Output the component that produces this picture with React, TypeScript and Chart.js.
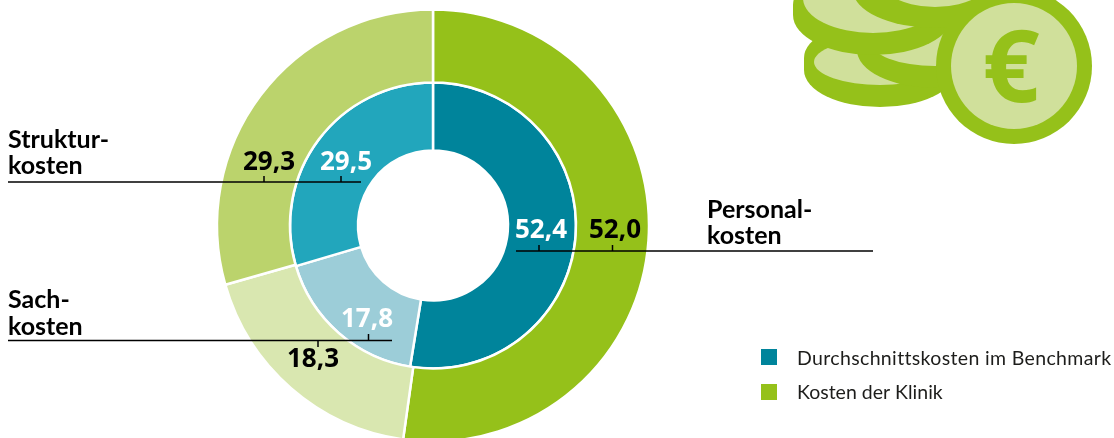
import React, { useEffect, useRef } from "react";
import { Chart, registerables, Plugin } from "chart.js";

Chart.register(...registerables);

const categories = ["Personalkosten", "Sachkosten", "Strukturkosten"];
const klinik = [52.0, 18.3, 29.3];
const benchmark = [52.4, 17.8, 29.5];
const seriesNames = ["Durchschnittskosten im Benchmark", "Kosten der Klinik"];
const klinikColors = ["#95c11a", "#d9e7b0", "#bbd36c"];
const benchmarkColors = ["#00849b", "#9ccdd8", "#22a6bc"];

const FONT = '"Noto Sans", sans-serif';
const LABEL_FONT = 'Lato, sans-serif';
const INK = "#1d1d1b";
const GREEN = "#95c11a";
const PALE = "#d0e09b";

const fmt = (v: number) => v.toFixed(1).replace(".", ",");

function coin(ctx: CanvasRenderingContext2D, cx: number, top: number, bottom: number, rx: number, ry: number, lx: number, ly: number, lrx: number, lry: number) {
  ctx.fillStyle = GREEN;
  ctx.beginPath();
  ctx.ellipse(cx, bottom, rx, ry, 0, 0, Math.PI);
  ctx.lineTo(cx - rx, top);
  ctx.ellipse(cx, top, rx, ry, 0, Math.PI, Math.PI * 2);
  ctx.closePath();
  ctx.fill();
  ctx.fillStyle = PALE;
  ctx.beginPath();
  ctx.ellipse(lx, ly, lrx, lry, 0, 0, Math.PI * 2);
  ctx.fill();
}

const decor: Plugin<"doughnut"> = {
  id: "decor",
  beforeDatasetsDraw(chart) {
    const ctx = chart.ctx;
    ctx.save();
    coin(ctx, 880, 58, 70, 76, 37, 880, 62, 66, 23);
    coin(ctx, 935, 45, 50, 78, 38, 935, 40, 66, 26);
    coin(ctx, 873, 5, 15, 80, 40, 873, -2, 70, 35);
    coin(ctx, 935, -20, -10, 82, 38, 935, -30, 62, 37);
    ctx.fillStyle = GREEN;
    ctx.beginPath();
    ctx.arc(1014, 66, 78, 0, Math.PI * 2);
    ctx.fill();
    ctx.fillStyle = PALE;
    ctx.beginPath();
    ctx.arc(1014, 66, 63, 0, Math.PI * 2);
    ctx.fill();
    ctx.fillStyle = GREEN;
    ctx.font = `700 100px ${FONT}`;
    ctx.textAlign = "center";
    ctx.textBaseline = "alphabetic";
    ctx.fillText("€", 1011, 102);
    ctx.restore();
  },
};

const annotations: Plugin<"doughnut"> = {
  id: "annotations",
  afterDatasetsDraw(chart) {
    const ctx = chart.ctx as CanvasRenderingContext2D & { letterSpacing: string };
    ctx.save();
    ctx.strokeStyle = "#000";
    ctx.lineWidth = 1.5;
    const seg = (x1: number, y1: number, x2: number, y2: number) => {
      ctx.beginPath();
      ctx.moveTo(x1, y1);
      ctx.lineTo(x2, y2);
      ctx.stroke();
    };
    seg(8, 182, 361, 182);
    seg(264, 176, 264, 182);
    seg(341, 176, 341, 182);
    seg(8, 340.5, 392, 340.5);
    seg(318, 340.5, 318, 347);
    seg(368.5, 334, 368.5, 340.5);
    seg(516, 251, 873, 251);
    seg(539, 245, 539, 251);
    seg(612.5, 245, 612.5, 251);

    ctx.textBaseline = "alphabetic";
    ctx.textAlign = "center";
    ctx.font = `700 26px ${FONT}`;
    const val = (v: number, x: number, y: number, c: string) => {
      ctx.fillStyle = c;
      ctx.fillText(fmt(v), x, y);
    };
    val(klinik[0], 615, 238, "#000");
    val(benchmark[0], 541, 238, "#fff");
    val(klinik[1], 313, 367, "#000");
    val(benchmark[1], 367, 327, "#fff");
    val(klinik[2], 269, 170, "#000");
    val(benchmark[2], 346, 170, "#fff");

    ctx.textAlign = "left";
    ctx.fillStyle = "#000";
    ctx.font = `700 25px ${LABEL_FONT}`;
    ctx.fillText("Struktur-", 8, 148);
    ctx.fillText("kosten", 8, 174);
    ctx.fillText("Sach-", 8, 308);
    ctx.fillText("kosten", 8, 335);
    ctx.fillText("Personal-", 707, 218);
    ctx.fillText("kosten", 707, 244);

    ctx.font = `400 19.5px ${LABEL_FONT}`;
    ctx.fillStyle = benchmarkColors[0];
    ctx.fillRect(761, 349, 16, 16);
    ctx.fillStyle = klinikColors[0];
    ctx.fillRect(761, 384, 16, 16);
    ctx.fillStyle = INK;
    ctx.letterSpacing = "0.35px";
    ctx.fillText(seriesNames[0], 797, 365);
    ctx.letterSpacing = "0px";
    ctx.fillText(seriesNames[1], 797, 399);
    ctx.restore();
  },
};

export default function App() {
  const ref = useRef<HTMLCanvasElement>(null);
  useEffect(() => {
    const chart = new Chart(ref.current!, {
      type: "doughnut",
      data: {
        labels: categories,
        datasets: [
          { label: seriesNames[1], data: klinik, backgroundColor: klinikColors, borderColor: "#fff", borderWidth: 2.5, weight: 73 },
          { label: seriesNames[0], data: benchmark, backgroundColor: benchmarkColors, borderColor: "#fff", borderWidth: 2.5, weight: 68 },
        ],
      },
      options: {
        responsive: false,
        animation: false,
        cutout: 75,
        layout: { padding: { left: 215.75, right: 463.75, top: 8.25, bottom: 17.25 } },
        plugins: { legend: { display: false }, tooltip: { enabled: false } },
      },
      plugins: [decor, annotations],
    } as any);
    return () => chart.destroy();
  }, []);
  return (
    <div style={{ position: "absolute", left: 0, top: 0, width: 1114, height: 438, overflow: "hidden", background: "#fff" }}>
      <canvas ref={ref} width={1114} height={460} style={{ display: "block" }} />
    </div>
  );
}
